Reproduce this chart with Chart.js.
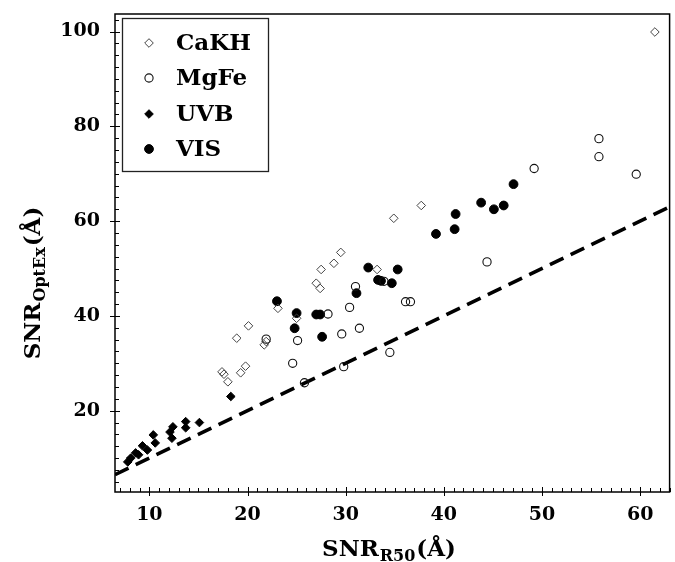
<!DOCTYPE html>
<html><head><meta charset="utf-8">
<script src="https://cdn.jsdelivr.net/npm/chart.js@4/dist/chart.umd.min.js"></script>
<style>html,body{margin:0;padding:0;background:#fff}#wrap{width:675px;height:562px}</style>
</head><body><div id="wrap"><canvas id="c" width="675" height="562"></canvas></div>
<script>
// ---- data ----
const seriesNames = ['CaKH', 'MgFe', 'UVB', 'VIS'];

const cakhX = [61.5, 34.9, 37.7, 29.5, 28.8, 27.5, 27.0, 27.4, 33.2, 23.1, 20.1, 18.9, 21.7, 21.9, 17.4, 17.6, 18.0, 19.3, 19.8, 25.0];
const cakhY = [99.9, 60.6, 63.3, 53.4, 51.1, 49.8, 46.9, 45.8, 49.8, 41.6, 37.9, 35.3, 33.9, 34.6, 28.2, 27.7, 26.1, 28.0, 29.4, 39.5];

const mgfeX = [55.8, 55.8, 49.2, 59.6, 44.4, 31.0, 36.1, 36.6, 30.4, 28.2, 31.4, 29.6, 34.5, 29.8, 21.9, 25.1, 24.6, 25.8, 33.9];
const mgfeY = [77.4, 73.6, 71.1, 69.9, 51.4, 46.2, 43.0, 43.0, 41.8, 40.4, 37.4, 36.2, 32.3, 29.3, 35.1, 34.8, 30.0, 25.9, 47.3];

const uvbX = [18.3, 15.1, 13.7, 13.7, 12.4, 12.1, 12.3, 10.4, 10.6, 9.3, 9.8, 8.6, 8.1, 7.8, 8.9];
const uvbY = [23.0, 17.5, 17.7, 16.4, 16.6, 15.5, 14.2, 14.9, 13.2, 12.6, 11.7, 11.1, 10.0, 9.2, 10.7];

const visX = [47.1, 43.8, 45.1, 46.1, 41.2, 41.1, 39.2, 32.3, 35.3, 33.3, 33.6, 34.7, 31.1, 23.0, 25.0, 27.0, 27.4, 24.8, 27.6];
const visY = [67.8, 63.9, 62.5, 63.3, 61.5, 58.3, 57.3, 50.2, 49.8, 47.6, 47.4, 46.9, 44.8, 43.1, 40.6, 40.3, 40.3, 37.4, 35.6];

const refLineX = [6.5, 63];          // one-to-one line, y = x
const xTickValues = [10, 20, 30, 40, 50, 60];
const yTickValues = [20, 40, 60, 80, 100];
const xTitleParts = ['SNR', 'R50', '(Å)'];
const yTitleParts = ['SNR', 'OptEx', '(Å)'];

// ---- build chart ----
const pts = (xs, ys) => xs.map((x, i) => ({ x: x, y: ys[i] }));
const SERIF = '"DejaVu Serif", "Liberation Serif", serif';

const markerStyles = [
  { pointStyle: 'rectRot', radius: 4.3, fill: 'rgba(0,0,0,0)', stroke: '#444', bw: 1 },
  { pointStyle: 'circle', radius: 4.1, fill: 'rgba(0,0,0,0)', stroke: '#111', bw: 1.1 },
  { pointStyle: 'rectRot', radius: 4.3, fill: '#000', stroke: '#000', bw: 1 },
  { pointStyle: 'circle', radius: 4.4, fill: '#000', stroke: '#000', bw: 1 }
];
const seriesData = [pts(cakhX, cakhY), pts(mgfeX, mgfeY), pts(uvbX, uvbY), pts(visX, visY)];

const datasets = seriesNames.map((name, i) => ({
  type: 'scatter',
  label: name,
  data: seriesData[i],
  pointStyle: markerStyles[i].pointStyle,
  pointRadius: markerStyles[i].radius,
  pointBackgroundColor: markerStyles[i].fill,
  pointBorderColor: markerStyles[i].stroke,
  pointBorderWidth: markerStyles[i].bw,
  order: 1
}));
datasets.push({
  type: 'line',
  label: 'one-to-one',
  data: refLineX.map(v => ({ x: v, y: v })),
  borderColor: '#000',
  borderWidth: 3.6,
  borderDash: [15, 8],
  pointRadius: 0,
  fill: false,
  order: 2
});

const frameTicks = {
  id: 'frameTicks',
  afterDraw(chart) {
    const ctx = chart.ctx, ca = chart.chartArea;
    const xs = chart.scales.x, ys = chart.scales.y;
    ctx.save();
    ctx.strokeStyle = '#000';
    ctx.lineWidth = 1.5;
    ctx.strokeRect(ca.left, ca.top, ca.right - ca.left, ca.bottom - ca.top);
    ctx.lineWidth = 1;
    ctx.beginPath();
    for (let v = Math.ceil(xs.min); v <= xs.max; v += 1) {
      const px = Math.round(xs.getPixelForValue(v)) + 0.5;
      const major = xTickValues.includes(v);
      ctx.moveTo(px, ca.bottom + (major ? 4 : 0));
      ctx.lineTo(px, ca.bottom - (major ? 5 : 4));
    }
    for (let v = Math.ceil(ys.min / 2.5) * 2.5; v <= ys.max; v += 2.5) {
      const py = Math.round(ys.getPixelForValue(v)) + 0.5;
      const major = yTickValues.includes(v);
      ctx.moveTo(ca.left - (major ? 5 : 0), py);
      ctx.lineTo(ca.left + (major ? 5 : 4), py);
    }
    ctx.stroke();
    ctx.restore();
  }
};

function drawParts(ctx, parts, x, y) {
  ctx.font = 'bold 23px ' + SERIF;
  ctx.fillText(parts[0], x, y);
  x += ctx.measureText(parts[0]).width + 1;
  ctx.font = 'bold 16px ' + SERIF;
  ctx.fillText(parts[1], x, y + 5);
  x += ctx.measureText(parts[1]).width + 1;
  ctx.font = 'bold 23px ' + SERIF;
  ctx.fillText(parts[2], x, y);
}
function partsWidth(ctx, parts) {
  ctx.font = 'bold 23px ' + SERIF;
  let w = ctx.measureText(parts[0]).width + ctx.measureText(parts[2]).width + 2;
  ctx.font = 'bold 16px ' + SERIF;
  return w + ctx.measureText(parts[1]).width;
}

const axisTitles = {
  id: 'axisTitles',
  afterDraw(chart) {
    const ctx = chart.ctx;
    ctx.save();
    ctx.fillStyle = '#000';
    ctx.textBaseline = 'alphabetic';
    ctx.textAlign = 'left';
    const wx = partsWidth(ctx, xTitleParts);
    drawParts(ctx, xTitleParts, 389 - wx / 2, 556);
    const wy = partsWidth(ctx, yTitleParts);
    ctx.translate(40, 283);
    ctx.rotate(-Math.PI / 2);
    drawParts(ctx, yTitleParts, -wy / 2, 0);
    ctx.restore();
  }
};

function drawMarker(ctx, st, x, y) {
  ctx.beginPath();
  const r = st.radius;
  if (st.pointStyle === 'circle') {
    ctx.arc(x, y, r, 0, Math.PI * 2);
  } else {
    ctx.moveTo(x - r, y); ctx.lineTo(x, y - r); ctx.lineTo(x + r, y); ctx.lineTo(x, y + r); ctx.closePath();
  }
  ctx.fillStyle = st.fill; ctx.fill();
  ctx.lineWidth = st.bw; ctx.strokeStyle = st.stroke; ctx.stroke();
}

const boxLegend = {
  id: 'boxLegend',
  afterDraw(chart) {
    const ctx = chart.ctx;
    ctx.save();
    ctx.fillStyle = '#fff';
    ctx.fillRect(122.5, 18.5, 146, 153);
    ctx.strokeStyle = '#222';
    ctx.lineWidth = 1.3;
    ctx.strokeRect(122.5, 18.5, 146, 153);
    const rows = [43, 78, 114, 149];
    seriesNames.forEach((name, i) => {
      drawMarker(ctx, markerStyles[i], 149, rows[i]);
      ctx.fillStyle = '#000';
      ctx.font = 'bold 23px ' + SERIF;
      ctx.textBaseline = 'middle';
      ctx.textAlign = 'left';
      ctx.fillText(name, 176, rows[i] + 1);
    });
    ctx.restore();
  }
};

new Chart(document.getElementById('c'), {
  data: { datasets: datasets },
  options: {
    responsive: false,
    devicePixelRatio: 1,
    animation: false,
    layout: { padding: { top: 14, right: 4, left: 0, bottom: 0 } },
    plugins: { legend: { display: false }, tooltip: { enabled: false } },
    scales: {
      x: {
        type: 'linear', position: 'bottom', min: 6.5, max: 63,
        grid: { display: false, drawTicks: false }, border: { display: false },
        afterBuildTicks: s => { s.ticks = xTickValues.map(v => ({ value: v })); },
        afterFit: s => { s.height = 70; s.paddingLeft = 0; s.paddingRight = 0; },
        ticks: { color: '#000', padding: 12, maxRotation: 0, font: { family: SERIF, size: 19, weight: 'bold' } }
      },
      y: {
        type: 'linear', position: 'left', min: 2.85, max: 103.7,
        grid: { display: false, drawTicks: false }, border: { display: false },
        afterBuildTicks: s => { s.ticks = yTickValues.map(v => ({ value: v })); },
        afterFit: s => { s.width = 115; s.paddingTop = 0; s.paddingBottom = 0; },
        ticks: { color: '#000', padding: 15, font: { family: SERIF, size: 19, weight: 'bold' } }
      }
    }
  },
  plugins: [frameTicks, axisTitles, boxLegend]
});
</script>
</body></html>
